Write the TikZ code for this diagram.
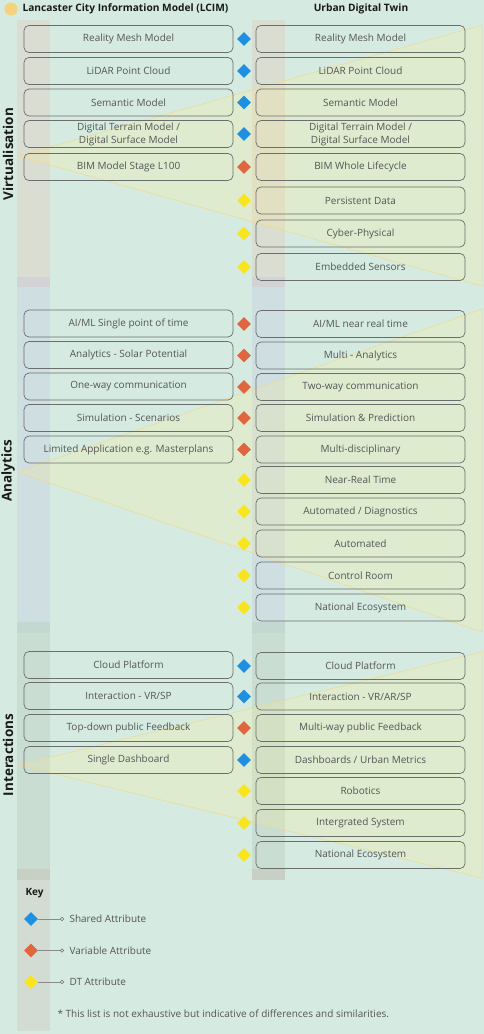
\documentclass[tikz,border=0pt]{standalone}
\usepackage{fontspec}
\setmainfont{Open Sans}
\usepackage{tikz}
\usetikzlibrary{shapes.geometric}

\definecolor{bgmint}{HTML}{D5EBE1}
\definecolor{stripvirt}{HTML}{D9DDD2}
\definecolor{stripana}{HTML}{CEDEE1}
\definecolor{stripint}{HTML}{C9DDD3}
\definecolor{stripkey}{HTML}{D3DCD3}
\definecolor{bandone}{HTML}{D3D3D6}
\definecolor{bandtwo}{HTML}{C1D9D0}
\definecolor{bandthree}{HTML}{C8CFC3}
\definecolor{boxgray}{HTML}{6A6E6C}
\definecolor{txtgray}{HTML}{555555}
\definecolor{shared}{HTML}{1E8FE1}
\definecolor{variable}{HTML}{E0663F}
\definecolor{dtyellow}{HTML}{F9E51E}
\definecolor{triline}{HTML}{F2D88A}
\definecolor{trifill}{HTML}{FFEE8C}
\definecolor{lcimdot}{HTML}{F5D37A}

\begin{document}
\begin{tikzpicture}[x=1pt,y=-1pt]
\tikzset{lbox/.style = {draw=boxgray, line width=0.7pt, rounded corners=5pt, minimum width=209pt, minimum height=27pt, inner sep=1pt, text=txtgray, align=center, font=\fontsize{10}{13}\selectfont}}
\tikzset{dia/.style = {shape=diamond, minimum width=14pt, minimum height=14pt, inner sep=0pt}}
\tikzset{sectitle/.style = {rotate=90, text=black!90, font=\fontsize{13.5}{14}\selectfont\bfseries}}
\tikzset{keytext/.style = {anchor=west, text=txtgray, font=\fontsize{10}{12}\selectfont}}
\tikzset{tri/.style = {draw=triline, line width=0.5pt, fill=trifill, fill opacity=0.22}}

\useasboundingbox (0,0) rectangle (484,1034);
\fill[bgmint] (0,0) rectangle (484,1034);

% strips
\fill[stripvirt] (17,20) rectangle (50,277);
\fill[bandone] (17,277) rectangle (50,287);
\fill[stripana] (17,287) rectangle (50,622);
\fill[bandtwo] (17,622) rectangle (50,633);
\fill[stripint] (17,633) rectangle (50,869);
\fill[bandthree] (17,869) rectangle (50,880);
\fill[stripkey] (17,880) rectangle (50,1031);
\fill[stripvirt] (252,20) rectangle (285,277);
\fill[bandone] (252,277) rectangle (285,287);
\fill[stripana] (252,287) rectangle (285,622);
\fill[bandtwo] (252,622) rectangle (285,633);
\fill[stripint] (252,633) rectangle (285,869);
\fill[bandthree] (252,869) rectangle (285,880);

% triangles
\filldraw[tri] (18,156) -- (482,25) -- (482,286) -- cycle;
\filldraw[tri] (18,472) -- (482,309) -- (482,632) -- cycle;
\filldraw[tri] (18,765) -- (482,652) -- (482,878) -- cycle;

% header
\fill[lcimdot] (11,9) circle (6.5);
\node[anchor=west, font=\fontsize{10.2}{12}\selectfont\bfseries, text=black!90] (LH) at (19,9) {Lancaster City Information Model (LCIM)};
\node[font=\fontsize{10.2}{12}\selectfont\bfseries, text=black!90] (RH) at (361,9) {Urban Digital Twin};

% section titles
\node[sectitle] (S1) at (8,154) {Virtualisation};
\node[sectitle] (S2) at (8,471) {Analytics};
\node[sectitle] (S3) at (8,755) {Interactions};

% Virtualisation
\node[lbox] (L1) at (128.5,39) {Reality Mesh Model};
\node[lbox] (L2) at (128.5,71) {LiDAR Point Cloud};
\node[lbox] (L3) at (128.5,102.5) {Semantic Model};
\node[lbox] (L4) at (128.5,134) {Digital Terrain Model /\\Digital Surface Model};
\node[lbox] (L5) at (128.5,167) {BIM Model Stage L100};
\node[lbox] (R1) at (360.5,39) {Reality Mesh Model};
\node[lbox] (R2) at (360.5,71) {LiDAR Point Cloud};
\node[lbox] (R3) at (360.5,102.5) {Semantic Model};
\node[lbox] (R4) at (360.5,134) {Digital Terrain Model /\\Digital Surface Model};
\node[lbox] (R5) at (360.5,167) {BIM Whole Lifecycle};
\node[lbox] (R6) at (360.5,200.5) {Persistent Data};
\node[lbox] (R7) at (360.5,233.5) {Cyber-Physical};
\node[lbox] (R8) at (360.5,267) {Embedded Sensors};
\node[dia, fill=shared] (D1) at (244,39) {};
\node[dia, fill=shared] (D2) at (244,71) {};
\node[dia, fill=shared] (D3) at (244,102.5) {};
\node[dia, fill=shared] (D4) at (244,134) {};
\node[dia, fill=variable] (D5) at (244,167) {};
\node[dia, fill=dtyellow] (D6) at (244,200.5) {};
\node[dia, fill=dtyellow] (D7) at (244,233.5) {};
\node[dia, fill=dtyellow] (D8) at (244,267) {};

% Analytics
\node[lbox] (L9) at (128.5,323.5) {AI/ML Single point of time};
\node[lbox] (L10) at (128.5,355) {Analytics - Solar Potential};
\node[lbox] (L11) at (128.5,386.5) {One-way communication};
\node[lbox] (L12) at (128.5,418) {Simulation - Scenarios};
\node[lbox] (L13) at (128.5,449.5) {Limited Application e.g. Masterplans};
\node[lbox] (R9) at (360.5,324) {AI/ML near real time};
\node[lbox] (R10) at (360.5,355.5) {Multi - Analytics};
\node[lbox] (R11) at (360.5,387) {Two-way communication};
\node[lbox] (R12) at (360.5,418) {Simulation \& Prediction};
\node[lbox] (R13) at (360.5,449.5) {Multi-disciplinary};
\node[lbox] (R14) at (360.5,480) {Near-Real Time};
\node[lbox] (R15) at (360.5,511.5) {Automated / Diagnostics};
\node[lbox] (R16) at (360.5,543.5) {Automated};
\node[lbox] (R17) at (360.5,575.5) {Control Room};
\node[lbox] (R18) at (360.5,607.5) {National Ecosystem};
\node[dia, fill=variable] (D9) at (244,324) {};
\node[dia, fill=variable] (D10) at (244,355.5) {};
\node[dia, fill=variable] (D11) at (244,387) {};
\node[dia, fill=variable] (D12) at (244,418) {};
\node[dia, fill=variable] (D13) at (244,449.5) {};
\node[dia, fill=dtyellow] (D14) at (244,480) {};
\node[dia, fill=dtyellow] (D15) at (244,511.5) {};
\node[dia, fill=dtyellow] (D16) at (244,543.5) {};
\node[dia, fill=dtyellow] (D17) at (244,575.5) {};
\node[dia, fill=dtyellow] (D18) at (244,607.5) {};

% Interactions
\node[lbox] (L19) at (128.5,665) {Cloud Platform};
\node[lbox] (L20) at (128.5,696) {Interaction - VR/SP};
\node[lbox] (L21) at (128.5,728) {Top-down public Feedback};
\node[lbox] (L22) at (128.5,760) {Single Dashboard};
\node[lbox] (R19) at (360.5,666) {Cloud Platform};
\node[lbox] (R20) at (360.5,696.5) {Interaction - VR/AR/SP};
\node[lbox] (R21) at (360.5,728) {Multi-way public Feedback};
\node[lbox] (R22) at (360.5,760) {Dashboards / Urban Metrics};
\node[lbox] (R23) at (360.5,791) {Robotics};
\node[lbox] (R24) at (360.5,823) {Intergrated System};
\node[lbox] (R25) at (360.5,855) {National Ecosystem};
\node[dia, fill=shared] (D19) at (244,666) {};
\node[dia, fill=shared] (D20) at (244,696.5) {};
\node[dia, fill=variable] (D21) at (244,728) {};
\node[dia, fill=shared] (D22) at (244,760) {};
\node[dia, fill=dtyellow] (D23) at (244,791) {};
\node[dia, fill=dtyellow] (D24) at (244,823) {};
\node[dia, fill=dtyellow] (D25) at (244,855) {};

% key
\node[anchor=west, font=\fontsize{10}{12}\selectfont\bfseries, text=black!90] (KEY) at (22,893) {Key};
\node[dia, fill=shared] (K1) at (31,919) {};
\node[dia, fill=variable] (K2) at (31,950.5) {};
\node[dia, fill=dtyellow] (K3) at (31,982) {};
\node[circle, draw=boxgray, fill=bgmint, line width=0.5pt, minimum size=3.5pt, inner sep=0pt] (K1c) at (62,919) {};
\node[circle, draw=boxgray, fill=bgmint, line width=0.5pt, minimum size=3.5pt, inner sep=0pt] (K2c) at (62,950.5) {};
\node[circle, draw=boxgray, fill=bgmint, line width=0.5pt, minimum size=3.5pt, inner sep=0pt] (K3c) at (62,982) {};
\node[keytext] (K1t) at (66,919) {Shared Attribute};
\node[keytext] (K2t) at (66,950.5) {Variable Attribute};
\node[keytext] (K3t) at (66,982) {DT Attribute};

\path [draw=boxgray!80, line width=0.5pt]
(K1) edge[] (K1c)
(K2) edge[] (K2c)
(K3) edge[] (K3c)
;

\node[keytext] (NOTE) at (54,1014) {* This list is not exhaustive but indicative of differences and similarities.};

\end{tikzpicture}
\end{document}
